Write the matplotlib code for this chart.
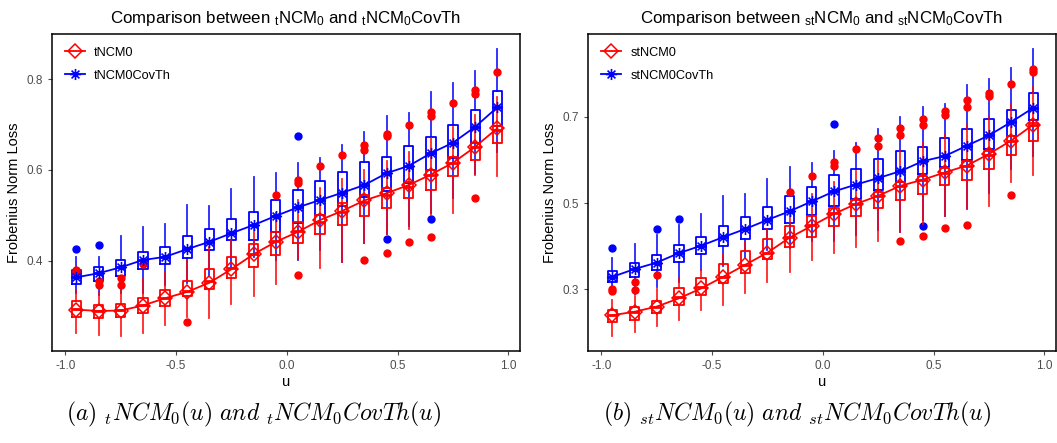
import matplotlib
matplotlib.use("Agg")
import matplotlib.pyplot as plt
from matplotlib.path import Path
from matplotlib.lines import Line2D

plt.rcParams['font.family'] = ['Liberation Sans', 'DejaVu Sans']
plt.rcParams['mathtext.default'] = 'regular'

u = [-0.95, -0.85, -0.75, -0.65, -0.55, -0.45, -0.35, -0.25, -0.15, -0.05,
     0.05, 0.15, 0.25, 0.35, 0.45, 0.55, 0.65, 0.75, 0.85, 0.95]

# ---------------- Panel (a): tNCM0 (red) ----------------
a_red_q1 = [0.276, 0.274, 0.276, 0.285, 0.300, 0.322, 0.338, 0.362, 0.386, 0.412,
            0.439, 0.459, 0.479, 0.499, 0.516, 0.538, 0.556, 0.587, 0.623, 0.659]
a_red_med = [0.294, 0.290, 0.292, 0.303, 0.318, 0.335, 0.355, 0.385, 0.415, 0.444,
             0.466, 0.486, 0.508, 0.530, 0.545, 0.563, 0.589, 0.615, 0.650, 0.689]
a_red_q3 = [0.312, 0.303, 0.306, 0.318, 0.336, 0.357, 0.382, 0.408, 0.437, 0.464,
            0.486, 0.501, 0.527, 0.544, 0.560, 0.574, 0.601, 0.628, 0.660, 0.697]
a_red_lo = [0.241, 0.237, 0.236, 0.242, 0.259, 0.276, 0.274, 0.305, 0.323, 0.349,
            0.405, 0.384, 0.397, 0.440, 0.460, 0.470, 0.500, 0.505, 0.589, 0.587]
a_red_hi = [0.335, 0.330, 0.335, 0.360, 0.375, 0.400, 0.431, 0.446, 0.475, 0.505,
            0.535, 0.560, 0.580, 0.600, 0.620, 0.640, 0.670, 0.695, 0.720, 0.760]
a_red_mean = [0.293, 0.290, 0.291, 0.302, 0.318, 0.332, 0.352, 0.382, 0.415, 0.442,
              0.464, 0.490, 0.510, 0.533, 0.549, 0.567, 0.590, 0.616, 0.651, 0.692]
a_red_out = [[0.380, 0.375], [0.355, 0.348], [0.362, 0.347], [0.393], [], [0.265], [], [], [], [0.545],
             [0.578, 0.572, 0.369], [0.609], [0.633], [0.655, 0.645, 0.401], [0.680, 0.675, 0.418],
             [0.700, 0.442], [0.728, 0.718, 0.452], [0.747], [0.775, 0.768, 0.538], [0.815]]

# ---------------- Panel (a): tNCM0CovTh (blue) ----------------
a_blu_q1 = [0.349, 0.357, 0.366, 0.382, 0.393, 0.406, 0.424, 0.445, 0.447, 0.464,
            0.484, 0.501, 0.521, 0.541, 0.554, 0.572, 0.600, 0.626, 0.660, 0.697]
a_blu_med = [0.364, 0.373, 0.386, 0.402, 0.409, 0.428, 0.442, 0.461, 0.479, 0.499,
             0.518, 0.534, 0.550, 0.567, 0.593, 0.609, 0.637, 0.660, 0.695, 0.738]
a_blu_q3 = [0.379, 0.386, 0.402, 0.420, 0.431, 0.455, 0.470, 0.492, 0.507, 0.534,
            0.556, 0.576, 0.596, 0.617, 0.628, 0.653, 0.672, 0.700, 0.732, 0.774]
a_blu_lo = [0.329, 0.326, 0.330, 0.330, 0.347, 0.351, 0.366, 0.384, 0.409, 0.402,
            0.403, 0.424, 0.397, 0.439, 0.460, 0.477, 0.505, 0.538, 0.591, 0.640]
a_blu_hi = [0.409, 0.409, 0.455, 0.475, 0.481, 0.523, 0.521, 0.558, 0.585, 0.593,
            0.615, 0.626, 0.655, 0.683, 0.719, 0.725, 0.771, 0.791, 0.818, 0.865]
a_blu_mean = [0.364, 0.373, 0.386, 0.402, 0.409, 0.426, 0.442, 0.461, 0.479, 0.499,
              0.518, 0.534, 0.550, 0.567, 0.593, 0.609, 0.637, 0.660, 0.695, 0.738]
a_blu_out = [[0.426], [0.434], [], [], [], [], [], [], [], [],
             [0.675], [], [], [], [0.448], [], [0.492], [], [], []]

# ---------------- Panel (b): stNCM0 (red) ----------------
b_red_q1 = [0.225, 0.230, 0.244, 0.264, 0.287, 0.314, 0.339, 0.370, 0.398, 0.422,
            0.447, 0.471, 0.488, 0.506, 0.522, 0.543, 0.554, 0.579, 0.612, 0.645]
b_red_med = [0.240, 0.248, 0.260, 0.283, 0.305, 0.329, 0.357, 0.385, 0.422, 0.450,
             0.477, 0.498, 0.516, 0.539, 0.554, 0.570, 0.585, 0.612, 0.643, 0.680]
b_red_q3 = [0.252, 0.260, 0.274, 0.302, 0.326, 0.358, 0.388, 0.416, 0.446, 0.471,
            0.488, 0.508, 0.525, 0.548, 0.562, 0.581, 0.597, 0.620, 0.655, 0.686]
b_red_lo = [0.191, 0.202, 0.215, 0.230, 0.253, 0.264, 0.291, 0.316, 0.341, 0.367,
            0.385, 0.399, 0.411, 0.434, 0.452, 0.469, 0.488, 0.494, 0.550, 0.564]
b_red_hi = [0.275, 0.285, 0.300, 0.326, 0.345, 0.380, 0.410, 0.440, 0.480, 0.520,
            0.550, 0.575, 0.600, 0.620, 0.640, 0.660, 0.680, 0.700, 0.730, 0.770]
b_red_mean = [0.240, 0.248, 0.260, 0.279, 0.302, 0.329, 0.357, 0.385, 0.420, 0.447,
              0.475, 0.498, 0.517, 0.540, 0.554, 0.571, 0.587, 0.614, 0.645, 0.682]
b_red_out = [[0.301, 0.297], [0.318, 0.299], [0.333], [], [], [], [], [], [0.525], [0.562],
             [0.595, 0.585], [0.626], [0.650, 0.632], [0.674, 0.657, 0.412], [0.696, 0.682, 0.424],
             [0.713, 0.705, 0.443], [0.738, 0.722, 0.448], [0.756, 0.748], [0.775, 0.519], [0.812, 0.804]]

# ---------------- Panel (b): stNCM0CovTh (blue) ----------------
b_blu_q1 = [0.318, 0.328, 0.345, 0.364, 0.382, 0.401, 0.417, 0.440, 0.453, 0.473,
            0.494, 0.509, 0.531, 0.550, 0.568, 0.584, 0.601, 0.626, 0.655, 0.692]
b_blu_med = [0.329, 0.347, 0.362, 0.384, 0.401, 0.421, 0.440, 0.461, 0.481, 0.504,
             0.527, 0.543, 0.558, 0.574, 0.597, 0.609, 0.633, 0.657, 0.688, 0.721]
b_blu_q3 = [0.343, 0.360, 0.380, 0.403, 0.421, 0.447, 0.467, 0.490, 0.516, 0.537,
            0.564, 0.579, 0.603, 0.620, 0.630, 0.651, 0.672, 0.694, 0.716, 0.756]
b_blu_lo = [0.298, 0.290, 0.306, 0.318, 0.345, 0.353, 0.372, 0.391, 0.395, 0.413,
            0.411, 0.426, 0.438, 0.434, 0.461, 0.469, 0.486, 0.523, 0.579, 0.609]
b_blu_hi = [0.372, 0.405, 0.426, 0.450, 0.475, 0.517, 0.522, 0.556, 0.584, 0.593,
            0.620, 0.640, 0.672, 0.699, 0.723, 0.730, 0.773, 0.788, 0.814, 0.858]
b_blu_mean = [0.329, 0.347, 0.362, 0.384, 0.401, 0.421, 0.440, 0.461, 0.481, 0.504,
              0.527, 0.543, 0.558, 0.574, 0.597, 0.609, 0.633, 0.657, 0.688, 0.721]
b_blu_out = [[0.395], [], [0.440], [0.463], [], [], [], [], [], [],
             [0.683], [], [], [], [0.446], [], [], [], [], []]

x_ticks = [-1.0, -0.5, 0.0, 0.5, 1.0]
a_yticks = [0.4, 0.6, 0.8]
b_yticks = [0.3, 0.5, 0.7]

RED = '#ff0000'
BLUE = '#0000ff'

ast = Path([(-1, 0), (1, 0), (0, -1), (0, 1), (-.707, -.707), (.707, .707), (-.707, .707), (.707, -.707)],
           [Path.MOVETO, Path.LINETO] * 4)


def stats(q1, med, q3, lo, hi, out):
    return [dict(q1=a, med=b, q3=c, whislo=d, whishi=e, fliers=f)
            for a, b, c, d, e, f in zip(q1, med, q3, lo, hi, out)]


def draw_box(ax, st, color, z):
    ax.bxp(st, positions=u, widths=0.042, showcaps=False, manage_ticks=False,
           boxprops=dict(color=color, lw=1.3, zorder=z),
           whiskerprops=dict(color=color, lw=1.3, alpha=0.85, zorder=z),
           medianprops=dict(color=color, lw=2.0, zorder=z),
           flierprops=dict(marker='o', markerfacecolor=color, markeredgecolor=color,
                           markersize=5, linestyle='none', zorder=z))


fig = plt.figure(figsize=(10.57, 4.43), dpi=100)
axA = fig.add_axes([52 / 1057, 92 / 443, 468 / 1057, 317 / 443])
axB = fig.add_axes([588 / 1057, 92 / 443, 468 / 1057, 317 / 443])

panels = [
    (axA, stats(a_red_q1, a_red_med, a_red_q3, a_red_lo, a_red_hi, a_red_out), a_red_mean,
     stats(a_blu_q1, a_blu_med, a_blu_q3, a_blu_lo, a_blu_hi, a_blu_out), a_blu_mean,
     'tNCM0', 'tNCM0CovTh', (0.202, 0.899), a_yticks,
     r"Comparison between ${}_{t}$NCM$_{0}$ and ${}_{t}$NCM$_{0}$CovTh"),
    (axB, stats(b_red_q1, b_red_med, b_red_q3, b_red_lo, b_red_hi, b_red_out), b_red_mean,
     stats(b_blu_q1, b_blu_med, b_blu_q3, b_blu_lo, b_blu_hi, b_blu_out), b_blu_mean,
     'stNCM0', 'stNCM0CovTh', (0.157, 0.892), b_yticks,
     r"Comparison between ${}_{st}$NCM$_{0}$ and ${}_{st}$NCM$_{0}$CovTh"),
]

for ax, rst, rmean, bst, bmean, rlab, blab, ylim, yt, title in panels:
    draw_box(ax, bst, BLUE, 2)
    draw_box(ax, rst, RED, 3)
    ax.plot(u, bmean, color=BLUE, lw=1.3, marker=ast, markersize=8, markeredgewidth=1.2,
            markeredgecolor=BLUE, zorder=4)
    ax.plot(u, rmean, color=RED, lw=1.3, marker='D', markersize=7, markerfacecolor='none',
            markeredgewidth=1.1, markeredgecolor=RED, zorder=5)
    ax.set_xlim(-1.06, 1.052)
    ax.set_ylim(*ylim)
    ax.set_xticks(x_ticks)
    ax.set_xticklabels(['-1.0', '-0.5', '0.0', '0.5', '1.0'])
    ax.set_yticks(yt)
    ax.set_yticklabels([f'{v:.1f}' for v in yt])
    ax.tick_params(axis='both', colors='#4d4d4d', labelsize=8.5, length=3, width=0.8,
                   labelcolor='#4d4d4d')
    for s in ax.spines.values():
        s.set_color('black')
        s.set_linewidth(1.1)
    ax.set_xlabel('u', fontsize=10.5, labelpad=2)
    ax.set_ylabel('Frobenius Norm Loss', fontsize=10.5, labelpad=4)
    ax.set_title(title, fontsize=12.2, pad=8)
    handles = [
        Line2D([], [], color=RED, lw=1.3, marker='D', markersize=7, markerfacecolor='none',
               markeredgewidth=1.1),
        Line2D([], [], color=BLUE, lw=1.3, marker=ast, markersize=8, markeredgewidth=1.2),
    ]
    ax.legend(handles, [rlab, blab], loc='upper left', frameon=False, fontsize=9.2,
              handlelength=1.6, handletextpad=0.7, borderaxespad=0.6, labelspacing=0.85)

fig.text(253 / 1057, 1 - 414 / 443,
         r"$\mathit{(a)\ {}_{t}NCM_{0}(u)\ and\ {}_{t}NCM_{0}CovTh(u)}$",
         ha='center', va='center', fontsize=17, math_fontfamily='cm')
fig.text(797 / 1057, 1 - 414 / 443,
         r"$\mathit{(b)\ {}_{st}NCM_{0}(u)\ and\ {}_{st}NCM_{0}CovTh(u)}$",
         ha='center', va='center', fontsize=17, math_fontfamily='cm')

fig.savefig('out.png', dpi=100)
